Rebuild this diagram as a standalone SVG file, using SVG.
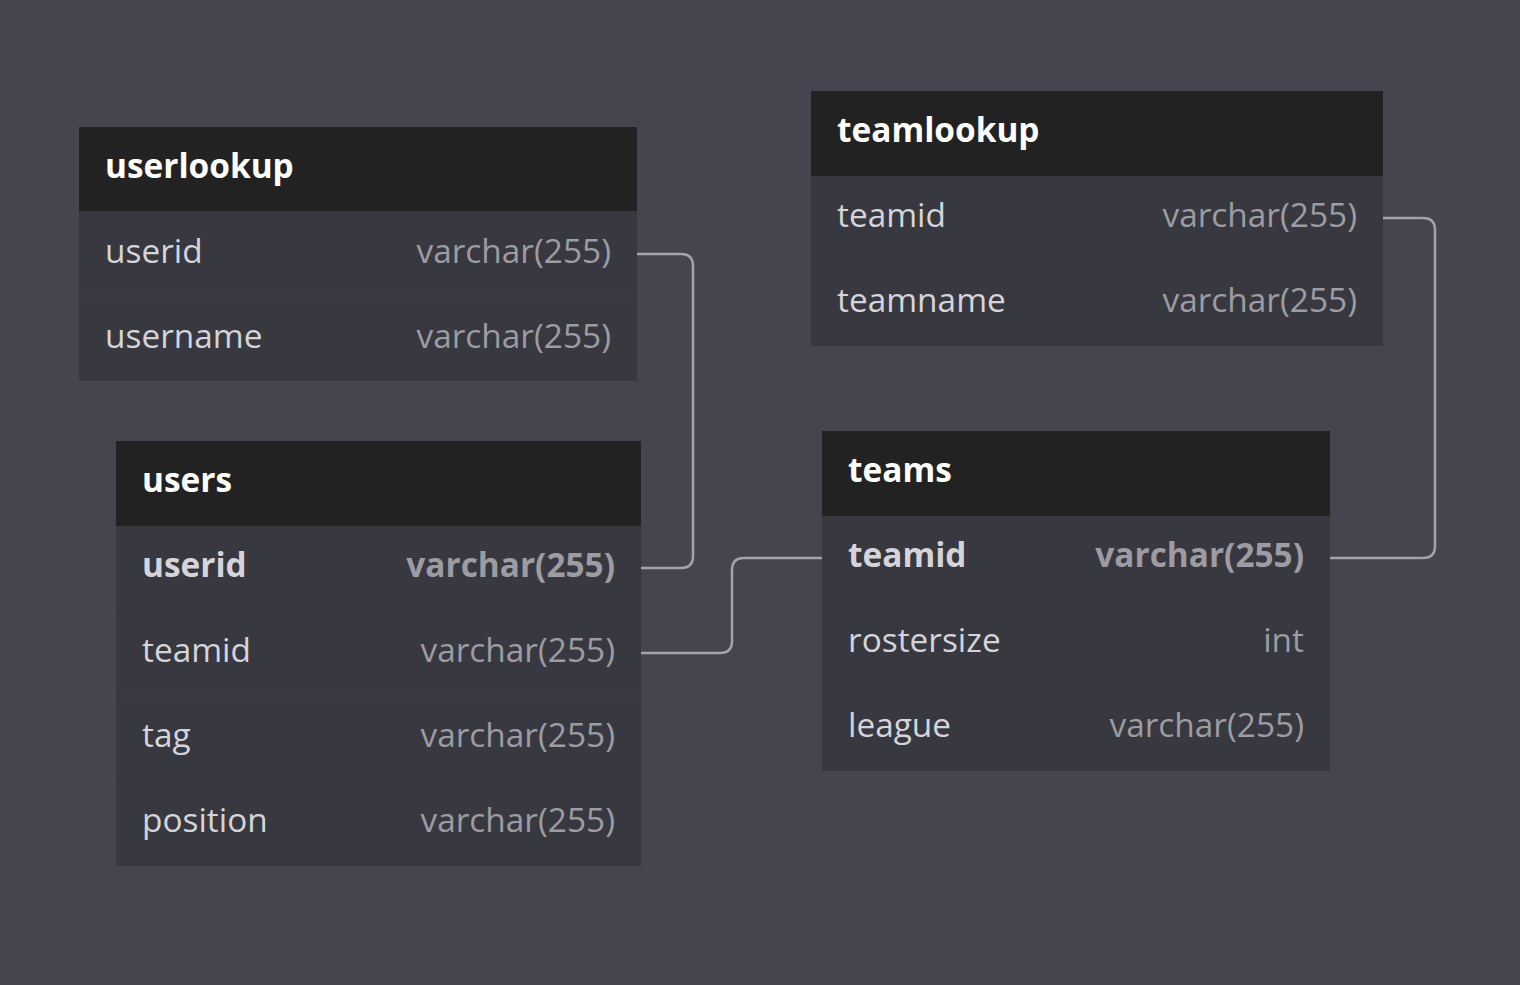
<svg xmlns="http://www.w3.org/2000/svg" width="1520" height="985" viewBox="0 0 1520 985">
<style>
.hd{fill:#222222}
.row{fill:#383840}
.sep{stroke:#35353d;stroke-width:1}
.t{font-family:"Open Sans","DejaVu Sans",sans-serif;font-size:33.4px}
.title{fill:#ffffff;font-weight:bold}
.name{fill:#d4d4da}
.type{fill:#9c9ca2;text-anchor:end}
.pk{font-weight:bold}
.c{fill:none;stroke:#a3a3ad;stroke-width:2.5}
</style>
<rect width="1520" height="985" fill="#45454f"/>
<g id="connectors">
<path class="c" d="M637,254 H681 Q693,254 693,266 V556 Q693,568 681,568 H641"/>
<path class="c" d="M641,653 H720 Q732,653 732,641 V570 Q732,558 744,558 H822"/>
<path class="c" d="M1383,218 H1423 Q1435,218 1435,230 V546 Q1435,558 1423,558 H1330"/>
</g>
<g id="userlookup">
<rect class="hd" x="79" y="127" width="558" height="84"/>
<rect class="row" x="79" y="211" width="558" height="170"/>
<line class="sep" x1="79" y1="296" x2="637" y2="296"/>
<text class="t title" x="105" y="178">userlookup</text>
<text class="t name" x="105" y="263">userid</text>
<text class="t type" x="611" y="263">varchar(255)</text>
<text class="t name" x="105" y="348">username</text>
<text class="t type" x="611" y="348">varchar(255)</text>
</g>
<g id="users">
<rect class="hd" x="116" y="441" width="525" height="85"/>
<rect class="row" x="116" y="526" width="525" height="340"/>
<line class="sep" x1="116" y1="611" x2="641" y2="611"/>
<line class="sep" x1="116" y1="696" x2="641" y2="696"/>
<line class="sep" x1="116" y1="781" x2="641" y2="781"/>
<text class="t title" x="142" y="492">users</text>
<text class="t name pk" x="142" y="577">userid</text>
<text class="t type pk" x="615" y="577">varchar(255)</text>
<text class="t name" x="142" y="662">teamid</text>
<text class="t type" x="615" y="662">varchar(255)</text>
<text class="t name" x="142" y="747">tag</text>
<text class="t type" x="615" y="747">varchar(255)</text>
<text class="t name" x="142" y="832">position</text>
<text class="t type" x="615" y="832">varchar(255)</text>
</g>
<g id="teamlookup">
<rect class="hd" x="811" y="91" width="572" height="85"/>
<rect class="row" x="811" y="176" width="572" height="170"/>
<line class="sep" x1="811" y1="261" x2="1383" y2="261"/>
<text class="t title" x="837" y="142">teamlookup</text>
<text class="t name" x="837" y="227">teamid</text>
<text class="t type" x="1357" y="227">varchar(255)</text>
<text class="t name" x="837" y="312">teamname</text>
<text class="t type" x="1357" y="312">varchar(255)</text>
</g>
<g id="teams">
<rect class="hd" x="822" y="431" width="508" height="85"/>
<rect class="row" x="822" y="516" width="508" height="255"/>
<line class="sep" x1="822" y1="601" x2="1330" y2="601"/>
<line class="sep" x1="822" y1="686" x2="1330" y2="686"/>
<text class="t title" x="848" y="482">teams</text>
<text class="t name pk" x="848" y="567">teamid</text>
<text class="t type pk" x="1304" y="567">varchar(255)</text>
<text class="t name" x="848" y="652">rostersize</text>
<text class="t type" x="1304" y="652">int</text>
<text class="t name" x="848" y="737">league</text>
<text class="t type" x="1304" y="737">varchar(255)</text>
</g>
</svg>
